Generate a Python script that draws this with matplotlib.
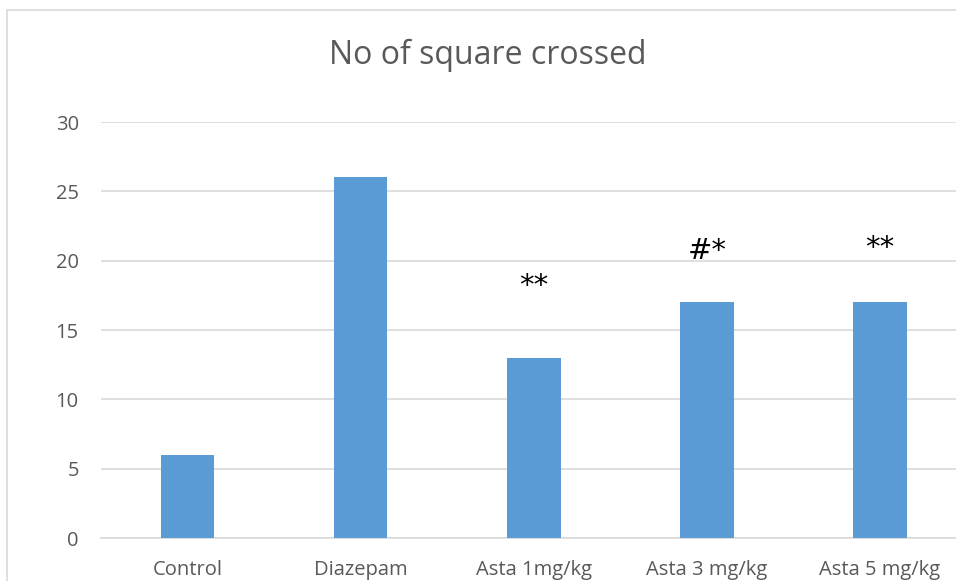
import matplotlib.pyplot as plt
from matplotlib.patches import Rectangle

# chart data
groups = ['Control', 'Diazepam', 'Asta 1mg/kg', 'Asta 3 mg/kg', 'Asta 5 mg/kg']
squares = [6, 26, 13, 17, 17]
marks = ['', '', '**', '#*', '**']
mark_offset = [0, 0, 5.2, 3.7, 3.9]  # height of the mark above its bar

plt.rcParams['font.family'] = ['Open Sans', 'DejaVu Sans']

fig = plt.figure(figsize=(9.56, 5.81), dpi=100)
W, H = 956, 581
ax = fig.add_axes([101 / W, 1 - 538 / H, 865.5 / W, 416 / H])

# outer chart frame (cropped at right/bottom)
fig.patches.append(Rectangle((7 / W, -0.1), 2, 1 - 10 / H + 0.1, transform=fig.transFigure,
                             fill=False, edgecolor='#d9d9d9', linewidth=1.2))

x = range(len(groups))
ax.bar(x, squares, width=0.31, color='#5b9bd5', zorder=3)

for i, m in enumerate(marks):
    if m:
        ax.text(i, squares[i] + mark_offset[i], m, ha='center', va='center',
                fontsize=21, color='black', family='DejaVu Sans')

ax.set_xlim(-0.5, len(groups) - 0.5)
ax.set_ylim(0, 30)
ax.set_yticks(range(0, 31, 5))
ax.set_xticks(list(x))
ax.set_xticklabels(groups)
ax.yaxis.grid(True, color='#d9d9d9', linewidth=1.2, zorder=0)
for s in ['top', 'right', 'left']:
    ax.spines[s].set_visible(False)
ax.spines['bottom'].set_color('#d9d9d9')
ax.spines['bottom'].set_linewidth(1.2)
ax.tick_params(axis='both', length=0, labelsize=14.5, colors='#595959')
ax.tick_params(axis='y', pad=16)
ax.tick_params(axis='x', pad=16)

fig.text(488 / W, 1 - 55 / H, 'No of square crossed', ha='center', va='center',
         fontsize=23, color='#595959')

fig.savefig('out.png', dpi=100)
